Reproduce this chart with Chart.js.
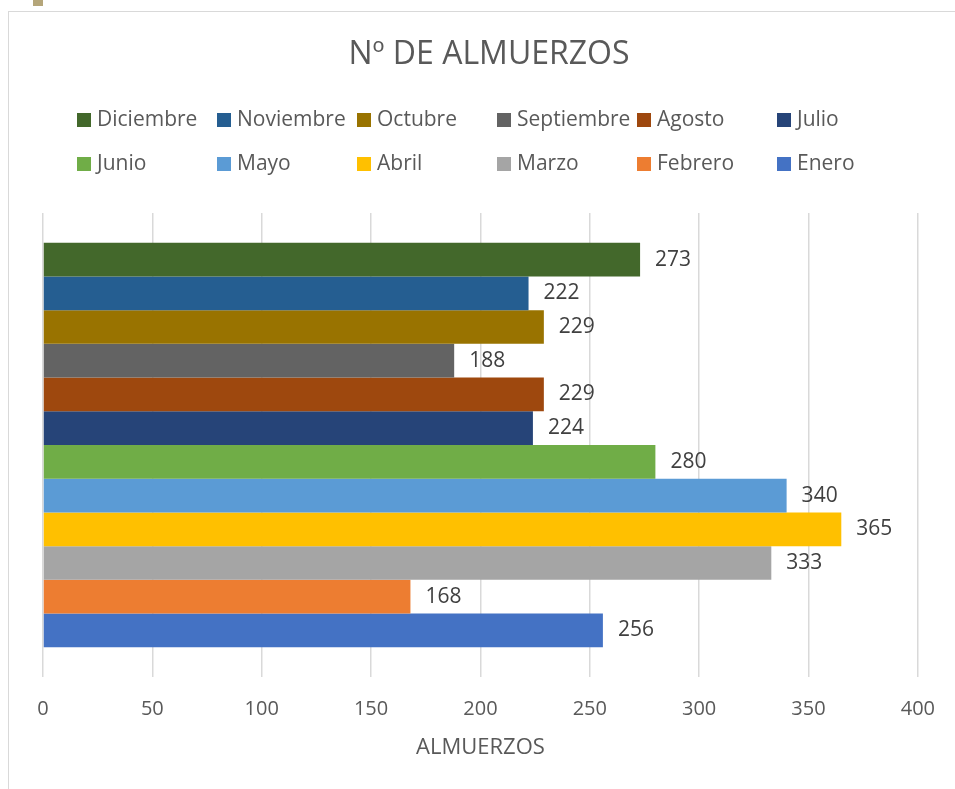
<!DOCTYPE html>
<html>
<head>
<meta charset="utf-8">
<script src="https://cdn.jsdelivr.net/npm/chart.js@4"></script>
<style>
  html, body { margin: 0; padding: 0; background: #fff; }
  #wrap { position: relative; width: 955px; height: 789px; overflow: hidden; }
  #frame { position: absolute; left: 8px; top: 11px; width: 960px; height: 800px; border: 1px solid #d9d9d9; }
  #mark { position: absolute; left: 33px; top: 0; width: 10px; height: 6px; background: #b5a67a; }
  canvas { position: absolute; left: 0; top: 0; }
</style>
</head>
<body>
<div id="wrap">
  <div id="frame"></div>
  <div id="mark"></div>
  <canvas id="chart" width="955" height="789"></canvas>
</div>
<script>
// Data (top bar first, like the legend)
const months = ['Diciembre', 'Noviembre', 'Octubre', 'Septiembre', 'Agosto', 'Julio',
                'Junio', 'Mayo', 'Abril', 'Marzo', 'Febrero', 'Enero'];
const lunches = [273, 222, 229, 188, 229, 224, 280, 340, 365, 333, 168, 256];
const colors = ['#43682b', '#255e91', '#997300', '#636363', '#9e480e', '#264478',
                '#70ad47', '#5b9bd5', '#ffc000', '#a5a5a5', '#ed7d31', '#4472c4'];
const xTicks = [0, 50, 100, 150, 200, 250, 300, 350, 400];

const FONT = "'Open Sans', sans-serif";

// title, legend grid, axis title and value labels drawn on the canvas
const decorations = {
    id: 'decorations',
    afterDatasetsDraw(chart) {
        const ctx = chart.ctx;
        ctx.save();
        ctx.textBaseline = 'middle';
        ctx.font = '21px ' + FONT;
        ctx.fillStyle = '#404040';
        chart.data.datasets.forEach((ds, i) => {
            const bar = chart.getDatasetMeta(i).data[0];
            ctx.textAlign = 'left';
            ctx.fillText(String(ds.data[0]), bar.x + 15, bar.y);
        });
        ctx.restore();
    },
    afterDraw(chart) {
        const ctx = chart.ctx;
        const area = chart.chartArea;
        ctx.save();
        ctx.textBaseline = 'middle';
        ctx.textAlign = 'center';
        ctx.fillStyle = '#595959';
        ctx.font = '32px ' + FONT;
        ctx.fillText('Nº DE ALMUERZOS', 489, 55);

        ctx.font = '22px ' + FONT;
        ctx.fillText('ALMUERZOS', (area.left + area.right) / 2, area.bottom + 71);

        ctx.textAlign = 'left';
        ctx.font = '21px ' + FONT;
        chart.data.datasets.forEach((ds, i) => {
            const col = i % 6;
            const row = Math.floor(i / 6);
            const x = 77 + col * 140;
            const y = 120 + row * 44;
            ctx.fillStyle = ds.backgroundColor;
            ctx.fillRect(x, y - 7, 14, 14);
            ctx.fillStyle = '#595959';
            ctx.fillText(ds.label, x + 20, y);
        });
        ctx.restore();
    }
};

new Chart(document.getElementById('chart').getContext('2d'), {
    type: 'bar',
    data: {
        labels: [''],
        datasets: months.map((m, i) => ({
            label: m,
            data: [lunches[i]],
            backgroundColor: colors[i],
            barPercentage: 1,
            categoryPercentage: 0.872
        }))
    },
    options: {
        indexAxis: 'y',
        responsive: false,
        animation: false,
        layout: { padding: { top: 213, left: 43, right: 35, bottom: 48 } },
        plugins: {
            legend: { display: false },
            title: { display: false },
            tooltip: { enabled: false }
        },
        scales: {
            x: {
                min: 0,
                max: 400,
                afterBuildTicks(axis) { axis.ticks = xTicks.map(v => ({ value: v })); },
                grid: { color: '#d9d9d9', lineWidth: 1.5, drawTicks: false },
                border: { display: false },
                ticks: { color: '#595959', font: { family: FONT, size: 20 }, padding: 20 }
            },
            y: { display: false }
        }
    },
    plugins: [decorations]
});
</script>
</body>
</html>
